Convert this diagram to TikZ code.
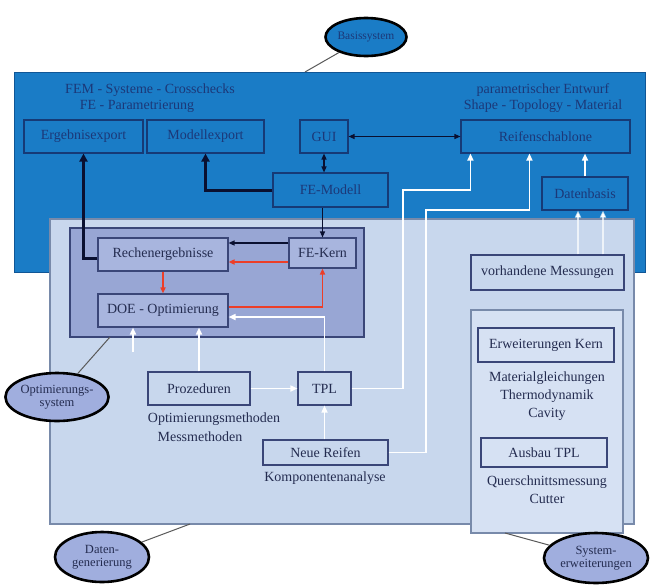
\documentclass[tikz,border=0pt]{standalone}
\usepackage{fontspec}
\setmainfont{Liberation Serif}
\usetikzlibrary{arrows.meta,calc,shapes.geometric}
\definecolor{bluearea}{RGB}{26,124,198}
\definecolor{blueedge}{RGB}{16,86,150}
\definecolor{navybox}{RGB}{22,58,118}
\definecolor{navytext}{RGB}{28,56,120}
\definecolor{lightarea}{RGB}{200,215,237}
\definecolor{lightedge}{RGB}{120,138,170}
\definecolor{optfill}{RGB}{152,166,212}
\definecolor{optedge}{RGB}{58,70,120}
\definecolor{optinner}{RGB}{168,181,222}
\definecolor{sysfill}{RGB}{214,225,243}
\definecolor{darktext}{RGB}{36,44,80}
\definecolor{redarrow}{RGB}{236,62,40}
\definecolor{blackarrow}{RGB}{10,16,48}
\definecolor{ellfill}{RGB}{160,174,222}
\begin{document}
\begin{tikzpicture}[x=1pt,y=-1pt,
  bbox/.style={draw=navybox, line width=1.1pt, inner sep=0pt, text=navytext, font=\fontsize{14}{16}\selectfont},
  lbox/.style={draw=optedge, line width=1.1pt, inner sep=0pt, text=darktext, fill=lightarea, font=\fontsize{14}{16}\selectfont},
  obox/.style={draw=optedge, line width=1.1pt, inner sep=0pt, text=darktext, fill=optinner, font=\fontsize{14}{16}\selectfont},
  lbl/.style={inner sep=0pt, text=darktext, font=\fontsize{14}{18}\selectfont, align=center},
  blbl/.style={inner sep=0pt, text=navytext, font=\fontsize{14}{18}\selectfont, align=center},
  ellip/.style={ellipse, draw=black, line width=2.6pt, fill=ellfill, inner sep=0pt, text=darktext, align=center, font=\fontsize{12.5}{13.5}\selectfont},
  heavy/.style={draw=blackarrow, line width=3pt, -{Triangle[length=8pt,width=8pt]}},
  thinblk/.style={draw=blackarrow, line width=1.2pt, -{Triangle[length=6pt,width=5pt]}},
  thinboth/.style={draw=blackarrow, line width=1.2pt, {Triangle[length=6pt,width=5pt]}-{Triangle[length=6pt,width=5pt]}},
  redarr/.style={draw=redarrow, line width=1.6pt, -{Triangle[length=6pt,width=5pt]}},
  whitearr/.style={draw=white, line width=1.6pt, -{Triangle[length=7pt,width=6pt]}},
  leader/.style={draw=black!65, line width=1pt}
]
\useasboundingbox (0,0) rectangle (650,584);
\fill[white] (0,0) rectangle (650,584);

% ---------------- blue area (Basissystem)
\node[draw=blueedge, fill=bluearea, line width=1pt, minimum width=631pt, minimum height=200pt, inner sep=0pt] (blue) at (329.5,172) {};
\node[blbl] (t1) at (150,90) {FEM - Systeme - Crosschecks};
\node[blbl] (t2) at (137,106) {FE - Parametrierung};
\node[blbl] (t3) at (543,90) {parametrischer Entwurf};
\node[blbl] (t4) at (543,106) {Shape - Topology - Material};
\node[bbox, minimum width=119pt, minimum height=33pt] (ergeb) at (83.5,136.5) {Ergebnisexport};
\node[bbox, minimum width=117pt, minimum height=33pt] (modell) at (205.5,136.5) {Modellexport};
\node[bbox, minimum width=48pt, minimum height=33pt] (gui) at (324,136.5) {GUI};
\node[bbox, minimum width=169pt, minimum height=33pt] (reif) at (545.5,136.5) {Reifenschablone};
\node[bbox, minimum width=115pt, minimum height=34pt] (femodell) at (330.5,190) {FE-Modell};
\node[bbox, minimum width=86pt, minimum height=33pt] (datenb) at (585,193.5) {Datenbasis};

% ---------------- light area (Datengenerierung)
\node[draw=lightedge, fill=lightarea, line width=1.2pt, minimum width=584pt, minimum height=305pt, inner sep=0pt] (light) at (342,371.5) {};
\node[draw=optedge, fill=optfill, line width=1.2pt, minimum width=294pt, minimum height=109pt, inner sep=0pt] (opt) at (217,282.5) {};
\node[draw=lightedge, fill=sysfill, line width=1.2pt, minimum width=152pt, minimum height=223pt, inner sep=0pt] (sys) at (547,421.5) {};

\node[obox, minimum width=130pt, minimum height=33pt] (rechen) at (163,254.5) {Rechenergebnisse};
\node[obox, minimum width=67pt, minimum height=30pt] (fekern) at (322.5,253) {FE-Kern};
\node[obox, minimum width=130pt, minimum height=33pt] (doe) at (163,310.5) {DOE - Optimierung};

\node[lbox, minimum width=153pt, minimum height=35pt] (vorh) at (547.5,272.5) {vorhandene Messungen};
\node[lbox, fill=sysfill, minimum width=136pt, minimum height=34pt] (erwk) at (546,345) {Erweiterungen Kern};
\node[lbl] (t5) at (547,396) {Materialgleichungen\\Thermodynamik\\Cavity};
\node[lbox, fill=sysfill, minimum width=126pt, minimum height=29pt] (ausbau) at (544,452.5) {Ausbau TPL};
\node[lbl] (t6) at (547,490) {Querschnittsmessung\\Cutter};

\node[lbox, minimum width=102pt, minimum height=33pt] (proz) at (199,388.5) {Prozeduren};
\node[lbox, minimum width=53pt, minimum height=33pt] (tpl) at (324.5,388.5) {TPL};
\node[lbl] (t7) at (214,419) {Optimierungsmethoden};
\node[lbl] (t8) at (200,437) {Messmethoden};
\node[lbox, minimum width=125pt, minimum height=25pt] (neue) at (325.5,452.5) {Neue Reifen};
\node[lbl] (t9) at (325,478) {Komponentenanalyse};

% ---------------- black connectors
\coordinate (a0) at ([yshift=-4pt]rechen.west);
\draw[heavy] (a0) -| (ergeb.south);
\draw[heavy] (femodell.west) -| (modell.south);
\draw[thinboth] (gui.south) -- (gui.south |- femodell.north);
\draw[thinboth] (gui.east) -- (reif.west);
\draw[thinblk] (fekern.north |- femodell.south) -- (fekern.north);
\coordinate (a1) at ([yshift=10pt]fekern.west);
\draw[thinblk] (a1) -- (a1 -| rechen.east);

% ---------------- red connectors
\coordinate (a2) at ([yshift=-9pt]fekern.west);
\draw[redarr] (a2) -- (a2 -| rechen.east);
\draw[redarr] (rechen.south) -- (doe.north);
\coordinate (a3) at ([yshift=3.5pt]doe.east);
\draw[redarr] (a3) -| (fekern.south);

% ---------------- white connectors
\coordinate (w1) at ([yshift=-6.5pt]doe.east);
\draw[whitearr] (tpl.north) |- (w1);
\draw[whitearr] (proz.north) -- (proz.north |- doe.south);
\coordinate (w0) at (133,352);
\draw[whitearr] (w0) -- (w0 |- doe.south);
\draw[whitearr] (proz.east) -- (tpl.west);
\draw[whitearr] (tpl.south |- neue.north) -- (tpl.south);
\coordinate (c1) at (403,190);
\coordinate (r1) at ([xshift=10pt]reif.south west);
\draw[whitearr] (tpl.east) -| (c1) -| (r1);
\coordinate (c2) at (426,210);
\coordinate (r2) at ([xshift=69pt]reif.south west);
\draw[whitearr] (neue.east) -| (c2) -| (r2);
\draw[whitearr] (datenb.north) -- (datenb.north |- reif.south);
\coordinate (v1) at ([xshift=-7pt]datenb.south);
\coordinate (v2) at ([xshift=18pt]datenb.south);
\draw[whitearr, draw opacity=0.7] (v1 |- vorh.north) -- (v1);
\draw[whitearr, draw opacity=0.7] (v2 |- vorh.north) -- (v2);

% ---------------- ellipses and leaders
\node[ellip, fill=bluearea, text=navytext, minimum width=81pt, minimum height=38pt, font=\fontsize{11.5}{12}\selectfont] (e1) at (366,37) {Basissystem};
\coordinate (b1) at (305,72);
\draw[leader] (e1) -- (b1);
\node[ellip, minimum width=101pt, minimum height=48pt] (e2) at (57,397) {Optimierungs-\\system};
\coordinate (b2) at (110,337);
\draw[leader] (e2) -- (b2);
\node[ellip, minimum width=94pt, minimum height=50pt] (e3) at (102,557) {Daten-\\generierung};
\coordinate (b3) at (190,524);
\draw[leader] (e3) -- (b3);
\node[ellip, minimum width=104pt, minimum height=50pt] (e4) at (596,558) {System-\\erweiterungen};
\coordinate (b4) at (505,533);
\draw[leader] (e4) -- (b4);
\end{tikzpicture}
\end{document}
